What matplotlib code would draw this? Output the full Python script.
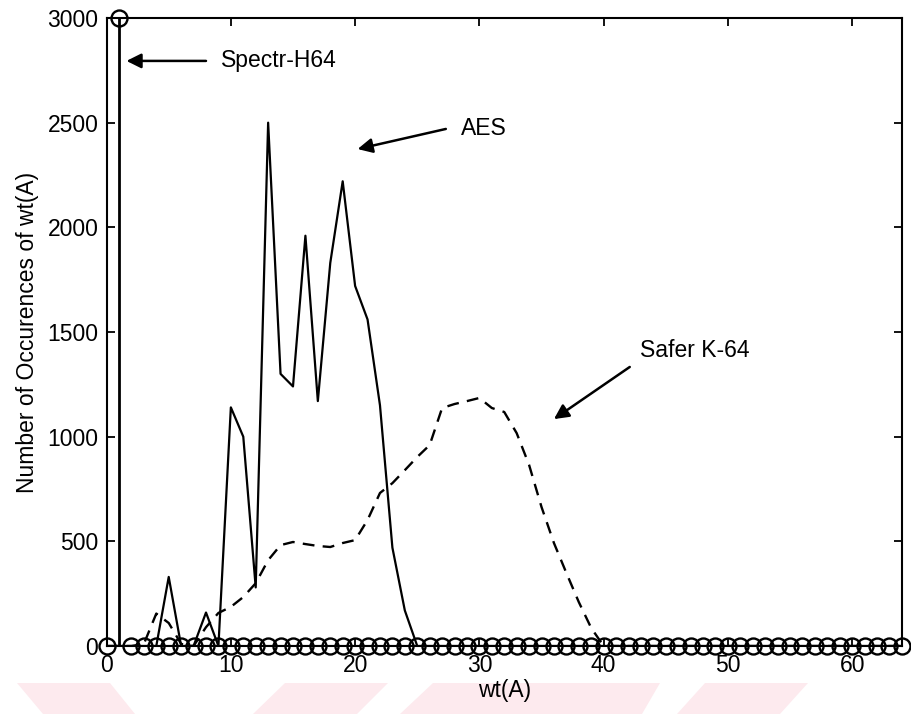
import numpy as np
import matplotlib
matplotlib.use('Agg')
import matplotlib.pyplot as plt
from matplotlib.patches import Polygon

plt.rcParams['font.family'] = ['Liberation Sans', 'DejaVu Sans']

# weight of the difference wt(A), 0..64
wt = np.arange(0, 65)

# AES counts, zero from 25 on
aes_head = [0, 0, 0, 0, 0, 330, 0, 0, 160, 0,
            1140, 1000, 280, 2500, 1300, 1240, 1960, 1170, 1830, 2220,
            1720, 1560, 1150, 470, 170]
aes = np.array(aes_head + [0] * (65 - len(aes_head)))

# Safer K-64 counts, zero from 40 on
safer_head = [0, 0, 0, 10, 155, 110, 10, 0, 90, 158,
              187, 234, 300, 410, 482, 497, 487, 478, 473, 492,
              506, 602, 731, 778, 840, 903, 960, 1137, 1156, 1170,
              1185, 1137, 1118, 1017, 865, 664, 492, 349, 210, 86]
safer = np.array(safer_head + [0] * (65 - len(safer_head)))

# Spectr-H64 counts: everything sits at wt = 1
spectr = np.zeros(65)
spectr[1] = 3000

fs = 16.5

fig = plt.figure(figsize=(9.11, 7.14), dpi=100)
ax = fig.add_axes([0.117, 0.0952, 0.873, 0.8796])

ax.plot(wt, aes, 'k-', lw=1.6)
ax.plot(wt, safer, 'k', lw=1.7, linestyle=(0, (5, 3.5)))
spike = spectr > 0
ax.vlines(wt[spike], 0, spectr[spike], colors='k', lw=2)
ax.plot(wt, spectr * 0, 'k-', lw=1.5)
ax.plot(wt, spectr, 'o', ls='none', mfc='none', mec='k', ms=11.5, mew=1.7, clip_on=False)

ax.set_xlim(0, 64)
ax.set_ylim(0, 3000)
ax.set_xticks(range(0, 61, 10))
ax.set_yticks(range(0, 3001, 500))
ax.tick_params(direction='in', length=6, width=1.3, top=True, right=True,
               labelsize=fs, pad=6)
for s in ax.spines.values():
    s.set_linewidth(1.5)

ax.set_xlabel('wt(A)', fontsize=fs, labelpad=1)
ax.set_ylabel('Number of Occurences of wt(A)', fontsize=fs, labelpad=6)

arrow = dict(arrowstyle='-|>', color='k', lw=1.8, mutation_scale=22, shrinkA=0, shrinkB=0)
ax.annotate('', xy=(1.6, 2795), xytext=(8.0, 2795), arrowprops=arrow)
ax.text(9.2, 2795, 'Spectr-H64', fontsize=fs, va='center', ha='left')
ax.annotate('', xy=(20.2, 2374), xytext=(27.3, 2470), arrowprops=arrow)
ax.text(28.5, 2470, 'AES', fontsize=fs, va='center', ha='left')
ax.annotate('', xy=(36.0, 1084), xytext=(42.1, 1333), arrowprops=arrow)
ax.text(42.9, 1410, 'Safer K-64', fontsize=fs, va='center', ha='left')

# faint pink watermark stripes along the bottom edge of the scan
W, H = 911.0, 714.0
stripes = [[(17, 683), (110, 683), (135, 714), (43, 714)],
           [(285, 683), (388, 683), (357, 714), (253, 714)],
           [(433, 683), (660, 683), (642, 714), (400, 714)],
           [(705, 683), (808, 683), (780, 714), (677, 714)]]
for pts in stripes:
    poly = Polygon([(x / W, 1 - y / H) for x, y in pts], closed=True,
                   transform=fig.transFigure, facecolor='#fdeaee', edgecolor='none', zorder=-1)
    fig.patches.append(poly)

fig.savefig('out.png', dpi=100)
plt.close('all')
